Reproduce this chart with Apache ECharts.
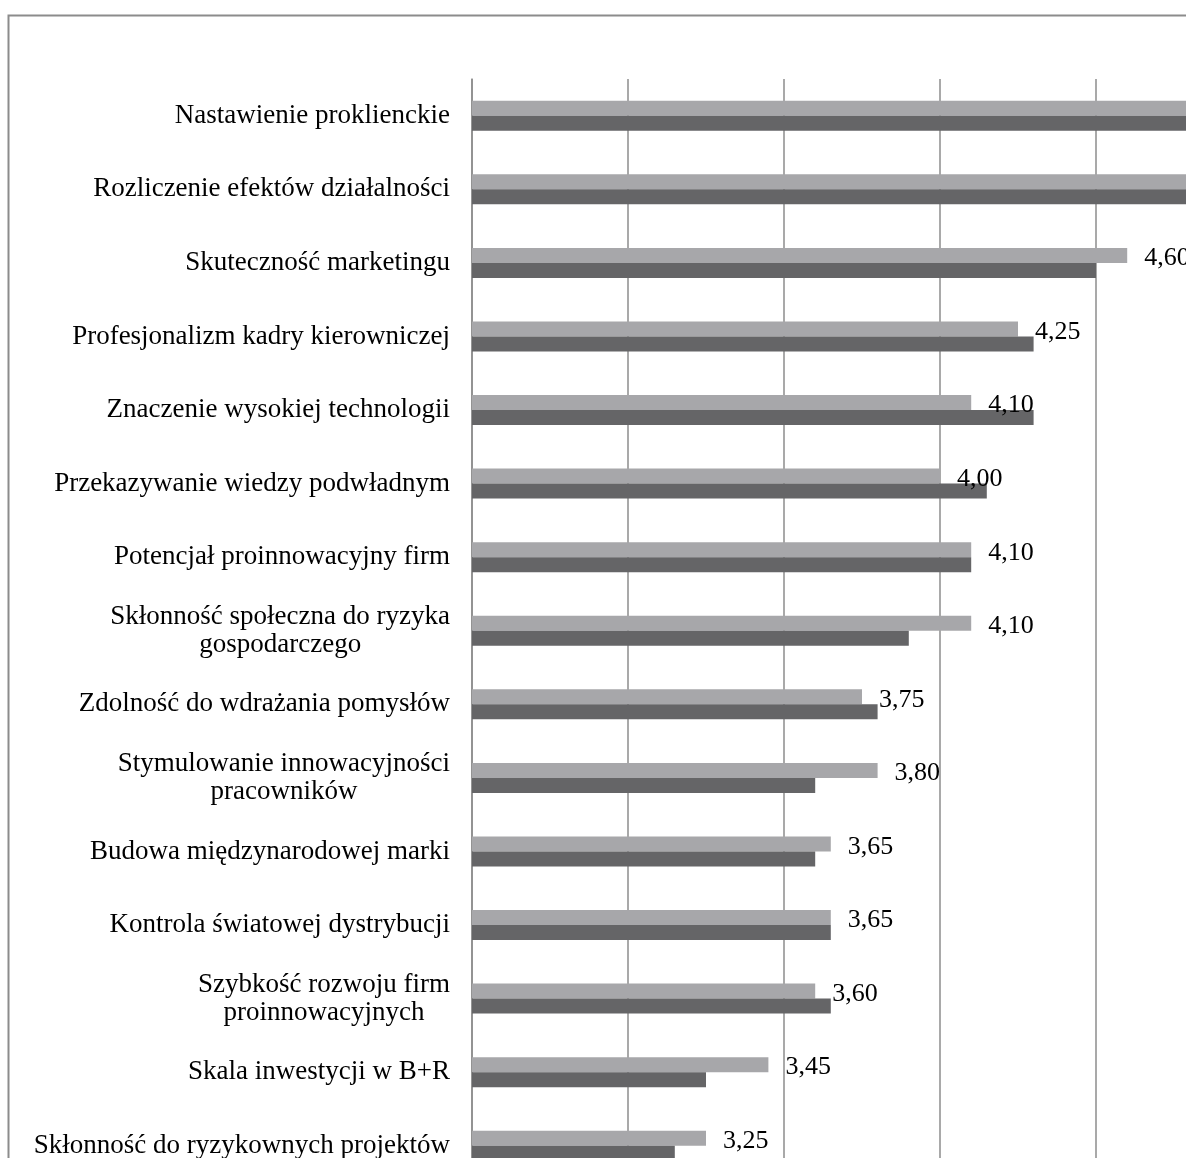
<!DOCTYPE html>
<html>
<head>
<meta charset="utf-8">
<script src="https://cdn.jsdelivr.net/npm/echarts@6/dist/echarts.min.js"></script>
<style>
    html, body { margin: 0; padding: 0; background: #fff; }
    #chart { width: 1186px; height: 1158px; }
</style>
</head>
<body>
<div id="chart"></div>
<script>
// dane
const categories = [
    'Nastawienie proklienckie',
    'Rozliczenie efektów działalności',
    'Skuteczność marketingu',
    'Profesjonalizm kadry kierowniczej',
    'Znaczenie wysokiej technologii',
    'Przekazywanie wiedzy podwładnym',
    'Potencjał proinnowacyjny firm',
    'Skłonność społeczna do ryzyka\ngospodarczego',
    'Zdolność do wdrażania pomysłów',
    'Stymulowanie innowacyjności\npracowników',
    'Budowa międzynarodowej marki',
    'Kontrola światowej dystrybucji',
    'Szybkość rozwoju firm\nproinnowacyjnych',
    'Skala inwestycji w B+R',
    'Skłonność do ryzykownych projektów'
];
const lightValues = [4.90, 4.85, 4.60, 4.25, 4.10, 4.00, 4.10, 4.10, 3.75, 3.80, 3.65, 3.65, 3.60, 3.45, 3.25];
const darkValues = [4.85, 4.80, 4.50, 4.30, 4.30, 4.15, 4.10, 3.90, 3.80, 3.60, 3.60, 3.65, 3.65, 3.25, 3.15];
const axisMin = 2.5;
const axisMax = 5;
const axisStep = 0.5;

(function () {
    const myChart = echarts.init(document.getElementById('chart'));
    const font = 'Liberation Serif';
    const option = {
        animation: false,
        graphic: [
            {
                // ramka wykresu
                type: 'rect',
                left: 6,
                top: 13,
                silent: true,
                shape: { width: 1400, height: 1400 },
                style: { fill: 'none', stroke: '#8c8c8c', lineWidth: 2 }
            }
        ],
        grid: {
            left: 472,
            top: 79,
            width: 780,
            height: 1103.5,
            outerBoundsMode: 'none'
        },
        xAxis: {
            type: 'value',
            min: axisMin,
            max: axisMax,
            interval: axisStep,
            axisLabel: { show: false },
            axisLine: { show: false },
            axisTick: { show: false },
            splitLine: {
                lineStyle: { color: '#8c8c8c', width: 1.5 }
            }
        },
        yAxis: {
            type: 'category',
            inverse: true,
            data: categories,
            axisTick: { show: false },
            axisLine: {
                lineStyle: { color: '#8c8c8c', width: 1.5 }
            },
            axisLabel: {
                margin: 22,
                color: '#000',
                fontFamily: font,
                fontSize: 27,
                lineHeight: 28,
                formatter: v => v.split('\n').map(s => '{c|' + s + '}').join('\n'),
                rich: {
                    c: { align: 'center', color: '#000', fontFamily: font, fontSize: 27, lineHeight: 28 }
                }
            }
        },
        series: [
            {
                name: 'a',
                type: 'bar',
                barWidth: 15,
                barGap: '0%',
                itemStyle: { color: '#a7a7aa' },
                label: {
                    show: true,
                    position: 'right',
                    distance: 17,
                    offset: [0, 3],
                    color: '#000',
                    fontFamily: font,
                    fontSize: 26,
                    formatter: p => p.value.toFixed(2).replace('.', ',')
                },
                data: lightValues
            },
            {
                name: 'b',
                type: 'bar',
                barWidth: 15,
                barGap: '0%',
                itemStyle: { color: '#656567' },
                data: darkValues
            }
        ]
    };
    myChart.setOption(option);
    window.addEventListener('resize', () => {
        myChart.resize();
    })
})();
</script>
</body>
</html>
